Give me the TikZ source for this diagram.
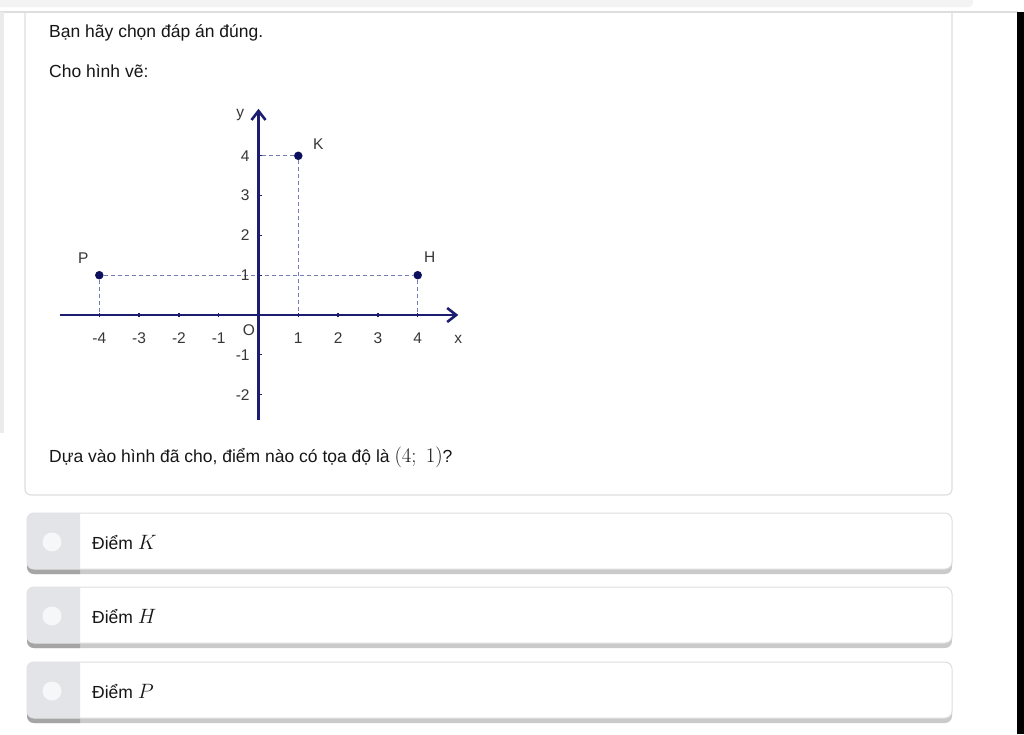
\documentclass[tikz,border=0pt]{standalone}
\usepackage[no-math]{fontspec}
\setmainfont{Liberation Sans}
\usetikzlibrary{arrows.meta}

\definecolor{axisblue}{RGB}{28,28,112}
\definecolor{dotblue}{RGB}{12,16,92}
\definecolor{dashblue}{RGB}{118,124,182}
\definecolor{labelgray}{RGB}{55,55,55}
\definecolor{textdark}{RGB}{22,22,22}
\definecolor{cardline}{RGB}{222,222,222}
\definecolor{topbar}{RGB}{243,243,243}
\definecolor{optleft}{RGB}{226,228,231}
\definecolor{optdot}{RGB}{246,247,249}
\definecolor{optshadow}{RGB}{202,202,202}
\definecolor{optshadowdark}{RGB}{165,165,165}

% math set a little larger than the text, as in the screenshot
\newcommand{\bigmath}[1]{{\fontsize{20.5}{24}\selectfont$#1$}}

\tikzset{
  axis/.style={line width=2.6pt, axisblue, -{Straight Barb[length=9pt,width=14pt]}},
  tick/.style={line width=1.3pt, axisblue},
  guide/.style={line width=1.2pt, dashblue, dash pattern=on 4pt off 3pt},
  pt/.style={circle, fill=dotblue, inner sep=0pt, minimum size=8.5pt},
  lab/.style={font=\fontsize{15.5}{18}\selectfont, text=labelgray, inner sep=0pt},
  body/.style={font=\fontsize{17.5}{20}\selectfont, text=textdark, inner sep=0pt, anchor=base west},
}

\begin{document}
\begin{tikzpicture}[x=1pt, y=-1pt]
% page
\fill[white] (0,0) rectangle (1024,734);
\useasboundingbox (0,0) rectangle (1024,734);

% browser edges
\fill[topbar, rounded corners=4pt] (-10,-5) rectangle (973,7);
\draw[cardline, line width=1.5pt] (0,12) -- (1018,12);
\fill[black] (1017,12) rectangle (1024,734);
\fill[black!8] (0,12) rectangle (4,433);

% question card
\draw[cardline, line width=1.2pt, rounded corners=6pt] (25,12) -- (25,495) -- (952,495) -- (952,12);

% texts of the question
\node[body] (intro) at (49,37.7) {Bạn hãy chọn đáp án đúng.};
\node[body] (given) at (49,77) {Cho hình vẽ:};
\node[body] (ask) at (49,462.5) {Dựa vào hình đã cho, điểm nào có tọa độ là \bigmath{(4;\;1)}?};

% coordinate plane
\begin{scope}[shift={(258.5,315)}, x=39.8pt, y=39.8pt]
% points
\node[pt] (P) at (-4,1) {};
\node[pt] (H) at (4,1) {};
\node[pt] (K) at (1,4) {};
\coordinate (Px) at (-4,0);
\coordinate (Hx) at (4,0);
\coordinate (Kx) at (1,0);
\coordinate (Ky) at (0,4);

% dashed guides
\draw[guide] (P) -- (H);
\draw[guide] (P) -- (Px);
\draw[guide] (H) -- (Hx);
\draw[guide] (K) -- (Kx);
\draw[guide] (K) -- (Ky);

% axes
\coordinate (xstart) at (-5,0);
\coordinate (xend) at (5.02,0);
\coordinate (ystart) at (0,-2.64);
\coordinate (yend) at (0,5.18);
\draw[axis] (xstart) -- (xend);
\draw[axis] (ystart) -- (yend);

% ticks and numbers
\foreach \i [count=\k] in {-4,-3,-2,-1,1,2,3,4} {
  \draw[tick] (\i,-0.06) -- (\i,0.06);
  \node[lab] (xnum\k) at (\i,-0.57) {\i};
}
\foreach \i [count=\k] in {-2,-1,1,2,3,4} {
  \draw[tick] (-0.03,\i) -- (0.1,\i);
  \node[lab, anchor=east] (ynum\k) at (-0.22,\i) {\i};
}
\node[lab] (orig) at (-0.24,-0.38) {O};
\node[lab] (xname) at (5.02,-0.62) {x};
\node[lab] (yname) at (-0.46,5.02) {y};

% point names
\node[lab] (Klab) at (1.5,4.3) {K};
\node[lab] (Plab) at (-4.4,1.42) {P};
\node[lab] (Hlab) at (4.3,1.45) {H};
\end{scope}

% answer options
\foreach \ty/\lab in {513/K,587/H,662/P} {
  \fill[optshadow, rounded corners=7pt] (27,\ty+4) rectangle (952,\ty+61);
  \begin{scope}
    \clip (20,\ty) rectangle (80,\ty+70);
    \fill[optshadowdark, rounded corners=7pt] (27,\ty+4) rectangle (952,\ty+61);
  \end{scope}
  \fill[white, rounded corners=7pt] (27,\ty) rectangle (952,\ty+56);
  \draw[cardline, line width=1pt, rounded corners=7pt] (27,\ty) rectangle (952,\ty+56);
  \begin{scope}
    \clip (20,\ty) rectangle (80,\ty+70);
    \fill[optleft, rounded corners=7pt] (27,\ty) rectangle (952,\ty+56);
  \end{scope}
  \fill[optdot] (52,\ty+29) circle (9.5);
  \node[body] (opt\lab) at (92,\ty+36) {Điểm \bigmath{\lab}};
}
\end{tikzpicture}
\end{document}
